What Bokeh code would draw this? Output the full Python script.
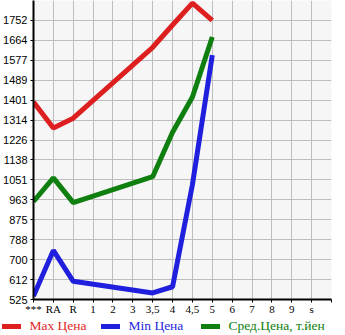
from bokeh.plotting import figure
from bokeh.layouts import column, row
from bokeh.models import FixedTicker, Legend, LegendItem
from bokeh.embed import file_html
from bokeh.resources import INLINE

categories = ["***", "RA", "R", "1", "2", "3", "3,5", "4", "4,5", "5", "6", "7", "8", "9", "s"]
max_price = [1393, 1279, 1322, None, None, None, 1634, 1732, 1828, 1752, None, None, None, None, None]
min_price = [540, 741, 605, None, None, None, 554, 581, 1030, 1599, None, None, None, None, None]
avg_price = [956, 1060, 951, None, None, None, 1065, 1260, 1415, 1679, None, None, None, None, None]
y_tick_labels = ["525", "612", "700", "788", "875", "963", "1051", "1138", "1226",
                 "1314", "1401", "1489", "1577", "1664", "1752"]
y_tick_values = [525, 612.6, 700.3, 787.9, 875.6, 963.2, 1050.8, 1138.5, 1226.1,
                 1313.8, 1401.4, 1489.0, 1576.7, 1664.3, 1752]
series_names = ["Max Цена", "Min Цена", "Сред.Цена, т.йен"]
colors = ["#dd1f1f", "#1f1fdd", "#0f800f"]

p = figure(width=345, height=317, x_range=(0, 15), y_range=(525, 1839.6),
           output_backend="svg", toolbar_location=None,
           min_border_left=31, min_border_right=14, min_border_top=0, min_border_bottom=17)
p.background_fill_color = "#f6f6f6"
p.border_fill_color = "white"
p.outline_line_color = None

x_ticks = list(range(len(categories) + 1))
p.xaxis.ticker = FixedTicker(ticks=x_ticks)
p.xaxis.major_label_overrides = {i: (categories[i] if i < len(categories) else "") for i in x_ticks}
p.yaxis.ticker = FixedTicker(ticks=y_tick_values)
p.yaxis.major_label_overrides = {v: l for v, l in zip(y_tick_values, y_tick_labels)}

for ax in (p.xaxis, p.yaxis):
    ax.axis_line_color = "black"
    ax.axis_line_width = 2
    ax.major_tick_line_color = "black"
    ax.major_tick_in = 0
    ax.major_tick_out = 3
    ax.minor_tick_line_color = None
    ax.major_label_text_color = "black"

p.yaxis.major_label_text_font = "Liberation Sans"
p.yaxis.major_label_text_font_size = "11px"
p.yaxis.major_label_standoff = 3
p.xaxis.major_label_text_font = "Liberation Serif"
p.xaxis.major_label_text_font_size = "11px"
p.xaxis.major_label_standoff = 0

p.xgrid.ticker = FixedTicker(ticks=x_ticks)
p.ygrid.ticker = FixedTicker(ticks=y_tick_values)
for g in (p.xgrid, p.ygrid):
    g.grid_line_color = "#bdbdbd"
    g.grid_line_width = 1

all_series = [max_price, min_price, avg_price]

# legend strip (separate figure; its copies of the series fall outside its range and stay hidden)
p2 = figure(width=345, height=18, x_range=(0, 15), y_range=(0, 1),
            output_backend="svg", toolbar_location=None,
            min_border_left=0, min_border_right=0, min_border_top=0, min_border_bottom=0)
p2.axis.visible = False
p2.grid.visible = False
p2.outline_line_color = None
p2.background_fill_color = "white"
p2.border_fill_color = "white"

legend_x = [1.5, 100.5, 200.5]
for vals, col, name, lx in zip(all_series, colors, series_names, legend_x):
    xs = [i for i, v in enumerate(vals) if v is not None]
    ys = [v for v in vals if v is not None]
    p.line(xs, ys, line_color=col, line_width=5)
    proxy = p2.line(xs, ys, line_color=col, line_width=5, line_cap="round", visible=False)
    leg = Legend(items=[LegendItem(label=name, renderers=[proxy])],
                 location=(lx, 1), orientation="horizontal",
                 padding=0, margin=0, spacing=0,
                 glyph_width=19, glyph_height=14, label_standoff=9,
                 label_height=14, inactive_fill_alpha=0,
                 border_line_color=None, background_fill_alpha=0,
                 label_text_font="Liberation Serif", label_text_font_size="13.5px",
                 label_text_color=col)
    p2.add_layout(leg, "center")

layout = column(p, row(p2), spacing=0)
open("out.html", "w").write(file_html(layout, INLINE))
